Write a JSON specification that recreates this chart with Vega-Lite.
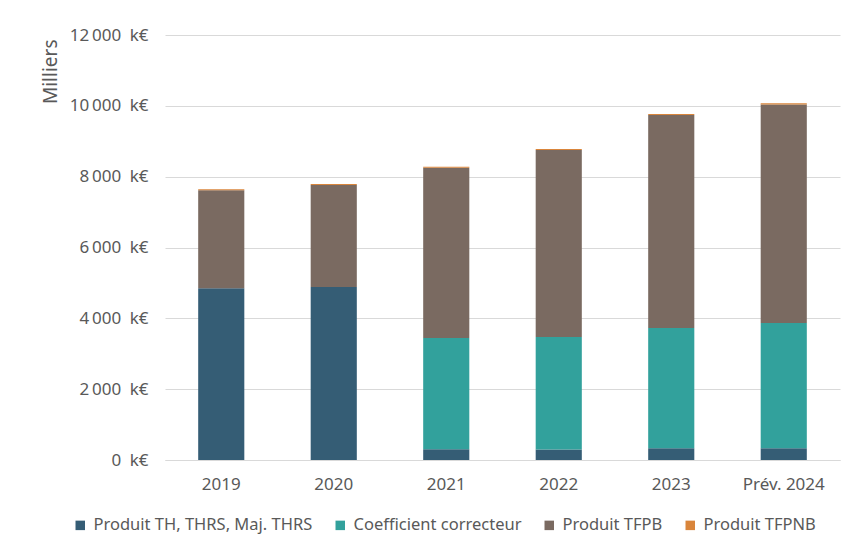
{
  "$schema": "https://vega.github.io/schema/vega-lite/v6.json",
  "width": 675,
  "height": 425,
  "autosize": {"type": "none"},
  "padding": {"left": 165, "top": 35, "right": 21, "bottom": 93},
  "background": "white",
  "config": {
    "view": {"stroke": null},
    "font": "Noto Sans",
    "axis": {"labelColor": "#595959", "titleColor": "#595959", "labelFontSize": 17, "titleFontWeight": "normal"},
    "legend": {"labelColor": "#595959", "labelFontSize": 16.5}
  },
  "data": {
    "values": [
      {"annee": "2019", "serie": "Produit TH, THRS, Maj. THRS", "ordre": 1, "valeur": 4848},
      {"annee": "2019", "serie": "Coefficient correcteur", "ordre": 2, "valeur": 0},
      {"annee": "2019", "serie": "Produit TFPB", "ordre": 3, "valeur": 2765},
      {"annee": "2019", "serie": "Produit TFPNB", "ordre": 4, "valeur": 30},
      {"annee": "2020", "serie": "Produit TH, THRS, Maj. THRS", "ordre": 1, "valeur": 4884},
      {"annee": "2020", "serie": "Coefficient correcteur", "ordre": 2, "valeur": 0},
      {"annee": "2020", "serie": "Produit TFPB", "ordre": 3, "valeur": 2878},
      {"annee": "2020", "serie": "Produit TFPNB", "ordre": 4, "valeur": 30},
      {"annee": "2021", "serie": "Produit TH, THRS, Maj. THRS", "ordre": 1, "valeur": 302},
      {"annee": "2021", "serie": "Coefficient correcteur", "ordre": 2, "valeur": 3142},
      {"annee": "2021", "serie": "Produit TFPB", "ordre": 3, "valeur": 4807},
      {"annee": "2021", "serie": "Produit TFPNB", "ordre": 4, "valeur": 30},
      {"annee": "2022", "serie": "Produit TH, THRS, Maj. THRS", "ordre": 1, "valeur": 300},
      {"annee": "2022", "serie": "Coefficient correcteur", "ordre": 2, "valeur": 3173},
      {"annee": "2022", "serie": "Produit TFPB", "ordre": 3, "valeur": 5277},
      {"annee": "2022", "serie": "Produit TFPNB", "ordre": 4, "valeur": 30},
      {"annee": "2023", "serie": "Produit TH, THRS, Maj. THRS", "ordre": 1, "valeur": 330},
      {"annee": "2023", "serie": "Coefficient correcteur", "ordre": 2, "valeur": 3397},
      {"annee": "2023", "serie": "Produit TFPB", "ordre": 3, "valeur": 6012},
      {"annee": "2023", "serie": "Produit TFPNB", "ordre": 4, "valeur": 30},
      {"annee": "Prév. 2024", "serie": "Produit TH, THRS, Maj. THRS", "ordre": 1, "valeur": 330},
      {"annee": "Prév. 2024", "serie": "Coefficient correcteur", "ordre": 2, "valeur": 3538},
      {"annee": "Prév. 2024", "serie": "Produit TFPB", "ordre": 3, "valeur": 6172},
      {"annee": "Prév. 2024", "serie": "Produit TFPNB", "ordre": 4, "valeur": 30}
    ]
  },
  "mark": {"type": "bar"},
  "encoding": {
    "x": {
      "field": "annee",
      "type": "nominal",
      "sort": null,
      "scale": {"paddingInner": 0.59, "paddingOuter": 0.295},
      "axis": {"title": null, "labelAngle": 0, "ticks": false, "domainColor": "#d9d9d9", "domainWidth": 1, "labelPadding": 16}
    },
    "y": {
      "field": "valeur",
      "type": "quantitative",
      "stack": "zero",
      "scale": {"domain": [0, 12000], "nice": false},
      "axis": {
        "title": "Milliers",
        "titleFontSize": 19,
        "titleAngle": -90,
        "titleAlign": "right",
        "titleBaseline": "middle",
        "titleX": -115,
        "titleY": 4,
        "values": [0, 2000, 4000, 6000, 8000, 10000, 12000],
        "labelExpr": "replace(format(datum.value, ',.0f'), ',', '\u2009') + '\u2002k€'",
        "ticks": false,
        "domain": false,
        "gridColor": "#d9d9d9",
        "gridWidth": 1,
        "labelPadding": 17
      }
    },
    "color": {
      "field": "serie",
      "type": "nominal",
      "scale": {
        "domain": ["Produit TH, THRS, Maj. THRS", "Coefficient correcteur", "Produit TFPB", "Produit TFPNB"],
        "range": ["#355d75", "#32a19c", "#7a6a61", "#d9853b"]
      },
      "legend": {
        "title": null,
        "orient": "none",
        "direction": "horizontal",
        "columns": 4,
        "legendX": -93,
        "legendY": 482,
        "symbolType": "square",
        "symbolSize": 90,
        "symbolStrokeWidth": 0,
        "columnPadding": 19,
        "labelOffset": 5,
        "labelLimit": 400
      }
    },
    "order": {"field": "ordre", "type": "quantitative"}
  }
}
